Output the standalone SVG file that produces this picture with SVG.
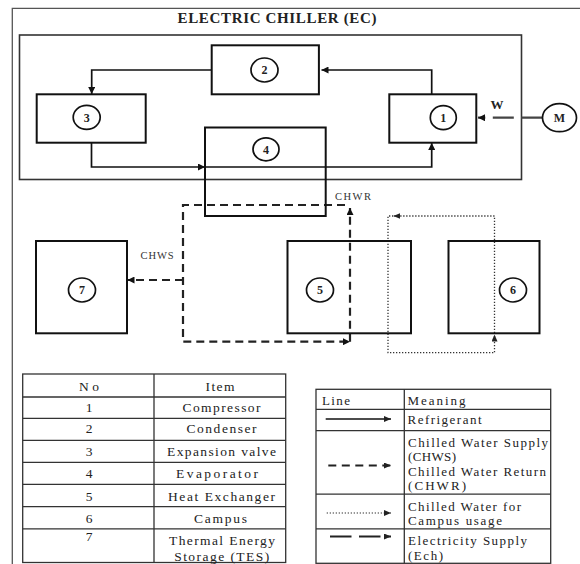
<svg xmlns="http://www.w3.org/2000/svg" width="580" height="564" viewBox="0 0 580 564">
<defs>
<marker id="ah" markerUnits="userSpaceOnUse" markerWidth="8" markerHeight="7" refX="7" refY="3.5" orient="auto">
<path d="M0,0 L7,3.5 L0,7 z" fill="#111"/>
</marker>
<marker id="ahs" markerUnits="userSpaceOnUse" markerWidth="8" markerHeight="6" refX="7" refY="3" orient="auto">
<path d="M0,0 L7,3 L0,6 z" fill="#222"/>
</marker>
</defs>
<style>
.box{fill:none;stroke:#111;stroke-width:2}
.cir{fill:#fff;stroke:#111;stroke-width:1.7}
.num{font-family:"Liberation Serif",serif;font-weight:bold;font-size:12px;fill:#222;text-anchor:middle}
.ref{fill:none;stroke:#111;stroke-width:1.7}
.dash{fill:none;stroke:#222;stroke-width:2.2;stroke-dasharray:8 5}
.dot{fill:none;stroke:#333;stroke-width:1.3;stroke-dasharray:1.3 1.7}
.elec{fill:none;stroke:#444;stroke-width:2.3}
.tbl{fill:none;stroke:#333;stroke-width:1.3}
.t{font-family:"Liberation Serif",serif;font-size:13px;fill:#222}
.tm{font-family:"Liberation Serif",serif;font-size:13.5px;fill:#222;text-anchor:middle}
.sm{font-family:"Liberation Serif",serif;font-size:10.5px;fill:#333}
</style>
<rect width="580" height="564" fill="#fff"/>
<g id="frame">
<path d="M580,8.3 H12.3 V564" fill="none" stroke="#555" stroke-width="1.3"/>
<text x="277" y="22.5" font-family="Liberation Serif,serif" font-weight="bold" font-size="15" fill="#222" text-anchor="middle" textLength="199" lengthAdjust="spacing">ELECTRIC CHILLER (EC)</text>
</g>
<g id="ec">
<rect x="19.5" y="35" width="502" height="144.5" fill="none" stroke="#333" stroke-width="1.6"/>
</g>
<g id="connectors">
<path class="ref" d="M211.7,70 H91.7 V94" marker-end="url(#ah)"/>
<path class="ref" d="M431.7,94.3 V70 H321.5" marker-end="url(#ah)"/>
<path class="ref" d="M91.5,142.7 V167 H205" marker-end="url(#ah)"/>
<path class="ref" d="M205,167 H431.7 V143" marker-end="url(#ah)"/>
<path class="elec" d="M542.3,117.7 H478" stroke-dasharray="21 7.5" marker-end="url(#ah)"/>
<path class="dash" d="M345,205 H183 V341.7 H350" marker-end="url(#ah)"/>
<path class="dash" d="M350,341.7 V208" marker-end="url(#ah)"/>
<path class="dash" d="M183,280 H127.5" marker-end="url(#ah)"/>
<path class="dot" d="M393.3,216 H388 V352.7 H494.5 V334.5" marker-end="url(#ahs)"/>
<path class="dot" d="M494.5,333 V216 H393.3" marker-end="url(#ahs)"/>
<text x="497" y="108.5" font-family="Liberation Serif,serif" font-weight="bold" font-size="13" fill="#222" text-anchor="middle">W</text>
<text class="sm" x="335" y="199.5" textLength="36" lengthAdjust="spacing">CHWR</text>
<text class="sm" x="140.6" y="259" textLength="33" lengthAdjust="spacing">CHWS</text>
</g>
<g id="n2"><rect class="box" x="211.7" y="45.3" width="107.2" height="49"/><ellipse class="cir" cx="264.5" cy="70" rx="13.5" ry="12"/><text class="num" x="264.5" y="74.3">2</text></g>
<g id="n3"><rect class="box" x="36.7" y="94.3" width="109" height="48.4"/><ellipse class="cir" cx="86.7" cy="117.3" rx="13.5" ry="12"/><text class="num" x="86.7" y="121.6">3</text></g>
<g id="n1"><rect class="box" x="389.3" y="94.3" width="87" height="48.4"/><ellipse class="cir" cx="443.3" cy="117.7" rx="13" ry="12"/><text class="num" x="443.3" y="122">1</text></g>
<g id="n4"><rect class="box" x="205" y="127.5" width="120.7" height="88.5"/><ellipse class="cir" cx="266" cy="149.3" rx="13" ry="11.5"/><text class="num" x="266" y="153.6">4</text></g>
<g id="nM"><ellipse class="cir" cx="559.5" cy="117.7" rx="17" ry="14"/><text class="num" x="559.5" y="122">M</text></g>
<g id="n7"><rect class="box" x="36" y="241" width="91" height="92.3"/><ellipse class="cir" cx="82" cy="290" rx="13.5" ry="12"/><text class="num" x="82" y="294.3">7</text></g>
<g id="n5"><rect class="box" x="287.5" y="241" width="123.5" height="92.3"/><ellipse class="cir" cx="320" cy="290" rx="13.5" ry="12"/><text class="num" x="320" y="294.3">5</text></g>
<g id="n6"><rect class="box" x="448.5" y="241" width="91" height="92.3"/><ellipse class="cir" cx="513" cy="290" rx="13.5" ry="12"/><text class="num" x="513" y="294.3">6</text></g>
<g id="table1">
<rect class="tbl" x="22.7" y="374" width="263" height="188.5"/>
<path class="tbl" d="M154,374 V562.5 M22.7,397 H285.7 M22.7,418.3 H285.7 M22.7,440.3 H285.7 M22.7,462.3 H285.7 M22.7,484.3 H285.7 M22.7,506.7 H285.7 M22.7,528.8 H285.7"/>
<text class="tm" x="89" y="390.5" textLength="20" lengthAdjust="spacing">No</text>
<text class="tm" x="220" y="390.5" textLength="29" lengthAdjust="spacing">Item</text>
<text class="tm" x="89" y="412">1</text>
<text class="tm" x="89" y="433">2</text>
<text class="tm" x="89" y="455.5">3</text>
<text class="tm" x="89" y="478">4</text>
<text class="tm" x="89" y="500.5">5</text>
<text class="tm" x="89" y="523">6</text>
<text class="tm" x="89" y="540.5">7</text>
<text class="tm" x="221.5" y="412" textLength="78" lengthAdjust="spacing">Compressor</text>
<text class="tm" x="221.5" y="433" textLength="70" lengthAdjust="spacing">Condenser</text>
<text class="tm" x="221.5" y="455.5" textLength="109" lengthAdjust="spacing">Expansion valve</text>
<text class="tm" x="217" y="478" textLength="82" lengthAdjust="spacing">Evaporator</text>
<text class="tm" x="221.5" y="500.5" textLength="107" lengthAdjust="spacing">Heat Exchanger</text>
<text class="tm" x="220.5" y="523" textLength="53" lengthAdjust="spacing">Campus</text>
<text class="tm" x="222" y="544.5" textLength="106" lengthAdjust="spacing">Thermal Energy</text>
<text class="tm" x="221.7" y="560.5" textLength="95" lengthAdjust="spacing">Storage (TES)</text>
</g>
<g id="table2">
<rect class="tbl" x="316" y="389.3" width="234.7" height="174"/>
<path class="tbl" d="M404.3,389.3 V563.3 M316,409.3 H550.7 M316,430.7 H550.7 M316,494.2 H550.7 M316,528.8 H550.7"/>
<text class="t" x="322" y="404.5" textLength="28" lengthAdjust="spacing">Line</text>
<text class="t" x="407.5" y="404.5" textLength="58" lengthAdjust="spacing">Meaning</text>
<text class="t" x="407.5" y="424" textLength="74" lengthAdjust="spacing">Refrigerant</text>
<text class="t" x="408" y="446.8" textLength="140" lengthAdjust="spacing">Chilled Water Supply</text>
<text class="t" x="408" y="461" textLength="48" lengthAdjust="spacing">(CHWS)</text>
<text class="t" x="408" y="475.8" textLength="138" lengthAdjust="spacing">Chilled Water Return</text>
<text class="t" x="408" y="490" textLength="58" lengthAdjust="spacing">(CHWR)</text>
<text class="t" x="408" y="510.5" textLength="113" lengthAdjust="spacing">Chilled Water for</text>
<text class="t" x="408" y="524.5" textLength="94" lengthAdjust="spacing">Campus usage</text>
<text class="t" x="408" y="544.5" textLength="119" lengthAdjust="spacing">Electricity Supply</text>
<text class="t" x="408" y="559.5" textLength="35" lengthAdjust="spacing">(Ech)</text>
<path d="M325.7,419 H391" fill="none" stroke="#111" stroke-width="1.7" marker-end="url(#ahs)"/>
<path d="M328.3,465.5 H391" fill="none" stroke="#222" stroke-width="2" stroke-dasharray="8 5.5" marker-end="url(#ahs)"/>
<path d="M326.7,513 H391" fill="none" stroke="#333" stroke-width="1.2" stroke-dasharray="1.3 1.7" marker-end="url(#ahs)"/>
<path d="M330,536.5 H391" fill="none" stroke="#222" stroke-width="2" stroke-dasharray="21.5 7.5" marker-end="url(#ahs)"/>
</g>
</svg>
